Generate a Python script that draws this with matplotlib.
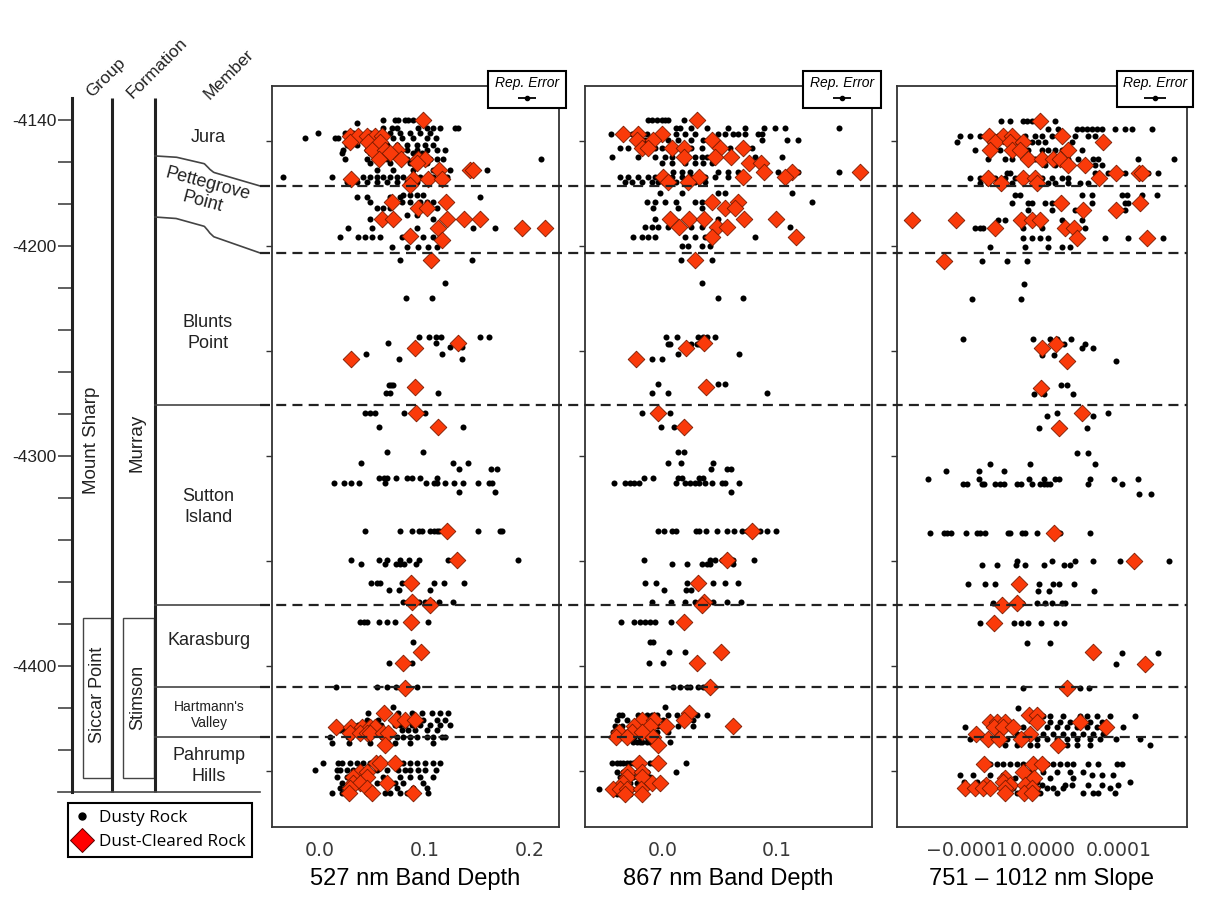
import numpy as np
import matplotlib
matplotlib.use("Agg")
import matplotlib.pyplot as plt
from matplotlib import transforms
from matplotlib.lines import Line2D
from matplotlib.patches import Rectangle
from matplotlib.ticker import FuncFormatter

plt.rcParams['font.family'] = ['Liberation Sans', 'DejaVu Sans']

# ---- stratigraphy (elevation, m) ----
member_bounds = [-4171.4, -4203.3, -4275.7, -4371.0, -4410.0, -4433.8]
wavy_left = [-4157.1, -4186.2]      # the two upper contacts start higher at the formation line
column_top = -4129.5
column_base = -4460.0
stimson_top = -4377.1
stimson_base = -4453.3
elev_labels = [-4140, -4200, -4300, -4400]

# ---- 527 nm band depth ----
bd527_dusty = [
    (-4140.0, [0.060, 0.071, 0.074, 0.081, 0.084, 0.089]),
    (-4141.4, [0.035]),
    (-4143.8, [0.060, 0.069, 0.073, 0.093, 0.102, 0.108, 0.114, 0.129, 0.131]),
    (-4146.2, [-0.002, 0.024, 0.031, 0.048, 0.057, 0.067, 0.076, 0.086, 0.095, 0.105]),
    (-4148.6, [-0.014, 0.014, 0.017, 0.035, 0.041, 0.060, 0.070, 0.078, 0.089, 0.102, 0.110]),
    (-4151.9, [0.026, 0.035, 0.064, 0.073, 0.083, 0.092, 0.100, 0.108]),
    (-4154.3, [0.022, 0.045, 0.083, 0.092, 0.102, 0.111, 0.119]),
    (-4155.7, [0.021, 0.048, 0.076, 0.089, 0.097]),
    (-4158.6, [0.024, 0.045, 0.054, 0.064, 0.073, 0.083, 0.093, 0.105, 0.111, 0.117, 0.210]),
    (-4160.5, [0.048, 0.067, 0.086, 0.102]),
    (-4163.8, [0.054, 0.070, 0.089, 0.108, 0.124, 0.140, 0.159]),
    (-4167.1, [-0.035, 0.011, 0.029, 0.041, 0.048, 0.054, 0.060, 0.067, 0.073, 0.079, 0.095, 0.108, 0.121]),
    (-4169.5, [0.026, 0.035, 0.045, 0.054, 0.064, 0.073, 0.083, 0.092, 0.102]),
    (-4175.7, [0.079, 0.086, 0.092, 0.098]),
    (-4176.7, [0.035, 0.045, 0.067, 0.076, 0.152]),
    (-4179.0, [0.048, 0.078, 0.086, 0.095, 0.102, 0.108]),
    (-4181.9, [0.054, 0.060, 0.067, 0.105, 0.111]),
    (-4185.2, [0.070, 0.083, 0.092]),
    (-4187.1, [0.048, 0.108, 0.135]),
    (-4191.4, [0.027, 0.050, 0.092, 0.146, 0.167]),
    (-4195.7, [0.019, 0.036, 0.043, 0.050, 0.057, 0.078, 0.089, 0.098, 0.108]),
    (-4200.5, [0.069, 0.083, 0.093, 0.103, 0.111]),
    (-4206.7, [0.076, 0.145]),
    (-4217.6, [0.119]),
    (-4224.8, [0.082, 0.107]),
    (-4243.3, [0.094, 0.104, 0.110, 0.115, 0.152, 0.161]),
    (-4246.2, [0.065, 0.110]),
    (-4248.1, [0.124, 0.135]),
    (-4251.4, [0.044, 0.116]),
    (-4253.8, [0.075, 0.135]),
    (-4266.2, [0.066, 0.068, 0.070]),
    (-4270.0, [0.063, 0.067, 0.112]),
    (-4279.5, [0.043, 0.048, 0.052, 0.080, 0.100]),
    (-4286.2, [0.056, 0.136]),
    (-4298.1, [0.064, 0.098]),
    (-4303.3, [0.039, 0.127, 0.141]),
    (-4306.2, [0.132, 0.163, 0.169]),
    (-4310.5, [0.056, 0.061, 0.064, 0.072, 0.083, 0.088, 0.095, 0.111]),
    (-4312.9, [0.013, 0.023, 0.030, 0.037, 0.062, 0.101, 0.109, 0.111, 0.119, 0.128, 0.136, 0.150, 0.161, 0.164]),
    (-4317.1, [0.132, 0.167]),
    (-4335.7, [0.043, 0.076, 0.088, 0.094, 0.097, 0.105, 0.109, 0.111, 0.113, 0.150, 0.171, 0.173]),
    (-4349.5, [0.030, 0.056, 0.064, 0.076, 0.085, 0.094, 0.122, 0.189]),
    (-4351.4, [0.039, 0.062, 0.072, 0.076, 0.080, 0.091]),
    (-4360.5, [0.049, 0.054, 0.057, 0.078, 0.109, 0.118, 0.137]),
    (-4363.8, [0.066, 0.075, 0.105]),
    (-4369.5, [0.079, 0.088, 0.094, 0.100, 0.107, 0.113, 0.127]),
    (-4379.0, [0.038, 0.042, 0.045, 0.056, 0.064, 0.071, 0.103]),
    (-4388.6, [0.089]),
    (-4398.6, [0.066, 0.088]),
    (-4410.0, [0.015, 0.054, 0.064, 0.072, 0.083, 0.092]),
    (-4419.5, [0.070]),
    (-4422.4, [0.046, 0.074, 0.088, 0.097, 0.107, 0.114, 0.122]),
    (-4425.7, [0.045, 0.055, 0.098, 0.111, 0.119]),
    (-4428.1, [0.029, 0.036, 0.043, 0.058, 0.071, 0.076, 0.081, 0.088, 0.095, 0.105, 0.114, 0.124]),
    (-4430.5, [0.019, 0.024, 0.050, 0.062, 0.078, 0.084, 0.090, 0.102, 0.111]),
    (-4433.8, [0.010, 0.027, 0.030, 0.048, 0.059, 0.073, 0.079, 0.086, 0.092, 0.102, 0.108, 0.116, 0.119]),
    (-4436.7, [0.011, 0.028, 0.048, 0.065, 0.071, 0.086, 0.108]),
    (-4446.2, [0.003, 0.017, 0.021, 0.029, 0.035, 0.041, 0.048, 0.059, 0.079, 0.086, 0.092, 0.100, 0.108, 0.114]),
    (-4449.5, [-0.005, 0.016, 0.019, 0.026, 0.031, 0.041, 0.054, 0.064, 0.074, 0.081, 0.086, 0.093, 0.100, 0.110]),
    (-4452.9, [0.016, 0.026, 0.048, 0.060, 0.076, 0.086, 0.095, 0.108]),
    (-4455.7, [0.021, 0.054, 0.071, 0.079, 0.098]),
    (-4458.1, [0.019, 0.024, 0.048, 0.073, 0.089, 0.102]),
    (-4460.5, [0.011, 0.021, 0.062, 0.067, 0.076, 0.083, 0.103]),
]
bd527_clear = [
    (-4140.0, [0.098]),
    (-4147.6, [0.029, 0.036, 0.045, 0.052, 0.059]),
    (-4150.5, [0.029, 0.046, 0.057]),
    (-4154.3, [0.050, 0.062, 0.073]),
    (-4155.7, [0.067]),
    (-4158.6, [0.056, 0.077, 0.093, 0.100]),
    (-4160.5, [0.092]),
    (-4163.8, [0.113, 0.143, 0.146]),
    (-4168.1, [0.030, 0.089, 0.103, 0.116]),
    (-4171.0, [0.086]),
    (-4179.0, [0.069, 0.120]),
    (-4181.9, [0.093, 0.102]),
    (-4187.1, [0.059, 0.070, 0.121, 0.137, 0.152]),
    (-4191.4, [0.112, 0.192, 0.214]),
    (-4195.2, [0.086]),
    (-4197.1, [0.116]),
    (-4206.7, [0.106]),
    (-4246.2, [0.131]),
    (-4248.6, [0.090]),
    (-4253.8, [0.030]),
    (-4267.1, [0.090]),
    (-4279.5, [0.091]),
    (-4286.2, [0.112]),
    (-4335.7, [0.121]),
    (-4349.5, [0.130]),
    (-4360.5, [0.087]),
    (-4369.5, [0.088]),
    (-4371.0, [0.105]),
    (-4379.0, [0.087]),
    (-4393.3, [0.096]),
    (-4398.6, [0.079]),
    (-4410.5, [0.081]),
    (-4422.4, [0.061]),
    (-4425.7, [0.072, 0.081, 0.090]),
    (-4429.0, [0.015, 0.030, 0.040, 0.048, 0.052]),
    (-4431.9, [0.029, 0.038, 0.045, 0.048, 0.060, 0.065]),
    (-4437.6, [0.062]),
    (-4446.2, [0.053, 0.057, 0.071]),
    (-4450.5, [0.038, 0.045]),
    (-4452.9, [0.031, 0.045]),
    (-4455.7, [0.031, 0.038, 0.064]),
    (-4458.1, [0.029, 0.045]),
    (-4460.5, [0.028, 0.050, 0.089]),
]

# ---- 867 nm band depth ----
bd867_dusty = [
    (-4140.0, [-0.013, -0.010, -0.005, -0.001, 0.002, 0.004, 0.018]),
    (-4143.8, [0.011, 0.015, 0.025, 0.039, 0.057, 0.072, 0.089, 0.098, 0.107, 0.154]),
    (-4146.7, [-0.046, -0.027, -0.014, 0.011, 0.019, 0.028, 0.048, 0.054, 0.061, 0.066, 0.072, 0.083, 0.087]),
    (-4149.5, [-0.016, 0.004, 0.013, 0.025, 0.035, 0.087, 0.109, 0.118]),
    (-4153.3, [-0.038, -0.031, -0.007, -0.001, 0.004, 0.025, 0.034, 0.059, 0.078]),
    (-4157.6, [-0.045, -0.022, -0.007, 0.002, 0.008, 0.022, 0.028, 0.034, 0.039, 0.057, 0.081, 0.104]),
    (-4160.5, [-0.001, 0.008, 0.019, 0.028, 0.035, 0.043]),
    (-4164.8, [0.009, 0.017, 0.024, 0.048, 0.057, 0.066, 0.101, 0.118, 0.154]),
    (-4167.1, [-0.038, -0.031, -0.022, -0.013, -0.007, 0.008, 0.017, 0.025, 0.037, 0.046, 0.057]),
    (-4169.5, [-0.033, -0.027, -0.018, -0.010, -0.004, 0.004, 0.011, 0.019, 0.028, 0.037]),
    (-4174.8, [-0.003, 0.017, 0.048, 0.054, 0.113]),
    (-4179.0, [-0.014, -0.007, 0.002, 0.011, 0.028, 0.034, 0.046, 0.066, 0.131]),
    (-4181.9, [-0.009, 0.013, 0.034]),
    (-4187.1, [-0.007, 0.048]),
    (-4191.0, [-0.016, -0.010, -0.004, 0.004, 0.025, 0.034, 0.111]),
    (-4195.7, [-0.026, -0.018, -0.013, -0.007, 0.019, 0.028, 0.037, 0.081]),
    (-4200.0, [0.017, 0.022, 0.034, 0.041]),
    (-4206.7, [0.016, 0.043]),
    (-4217.6, [0.034]),
    (-4224.8, [0.048, 0.070]),
    (-4243.3, [0.003, 0.012, 0.031, 0.035, 0.039, 0.046]),
    (-4246.7, [0.004, 0.006, 0.025, 0.030, 0.032]),
    (-4251.4, [0.013, 0.067]),
    (-4253.8, [-0.010, -0.001]),
    (-4265.7, [-0.004, 0.048, 0.054]),
    (-4270.0, [-0.010, 0.004, 0.091]),
    (-4279.5, [-0.018, -0.001, 0.006]),
    (-4286.2, [-0.002, 0.010]),
    (-4298.1, [0.013, 0.018]),
    (-4303.3, [0.004, 0.016, 0.044]),
    (-4306.2, [0.042, 0.056, 0.060]),
    (-4310.5, [-0.017, -0.009, 0.013, 0.017, 0.032, 0.035]),
    (-4312.9, [-0.043, -0.033, -0.029, -0.025, -0.021, 0.011, 0.019, 0.024, 0.028, 0.032, 0.037, 0.043, 0.052, 0.054, 0.067]),
    (-4317.1, [0.060]),
    (-4335.7, [-0.004, 0.001, 0.008, 0.011, 0.029, 0.032, 0.038, 0.047, 0.056, 0.062, 0.069, 0.074, 0.085, 0.091, 0.099]),
    (-4349.5, [-0.017, 0.041, 0.046, 0.052, 0.061, 0.080]),
    (-4351.4, [0.008, 0.021, 0.034, 0.039, 0.041, 0.061]),
    (-4360.5, [-0.016, -0.006, 0.021, 0.044, 0.054, 0.066]),
    (-4363.8, [0.001, 0.020, 0.025]),
    (-4369.5, [-0.010, 0.007, 0.019, 0.028, 0.044, 0.056, 0.068]),
    (-4379.0, [-0.037, -0.025, -0.020, -0.016, -0.011, -0.007, 0.007]),
    (-4388.6, [-0.011, -0.009]),
    (-4393.3, [0.005, 0.019]),
    (-4398.6, [-0.012, 0.000]),
    (-4410.0, [0.009, 0.015, 0.021, 0.024, 0.031, 0.035]),
    (-4419.5, [0.002]),
    (-4423.3, [-0.039, -0.036, -0.022, -0.014, -0.010, -0.005, 0.004, 0.012, 0.030, 0.039]),
    (-4425.7, [-0.040, -0.032, 0.000, 0.015, 0.026]),
    (-4428.6, [-0.042, -0.036, -0.029, -0.020, -0.016, -0.004, 0.013, 0.026]),
    (-4431.4, [-0.044, -0.035, -0.026, -0.022, -0.013, -0.005, 0.004]),
    (-4433.8, [-0.044, -0.038, -0.025, -0.020, -0.014, -0.010]),
    (-4436.2, [-0.026, -0.023, -0.020, -0.018, -0.014, -0.011, -0.009, 0.006]),
    (-4446.2, [-0.045, -0.040, -0.038, -0.035, -0.032, -0.029, -0.026, -0.023, -0.018, -0.011, -0.009, -0.003, 0.020]),
    (-4450.5, [-0.040, -0.035, -0.029, -0.023, -0.014, 0.011]),
    (-4452.9, [-0.038, -0.026, -0.011]),
    (-4455.7, [-0.029, -0.023, -0.014]),
    (-4458.6, [-0.056, -0.027]),
    (-4461.0, [-0.040, -0.029]),
]
bd867_clear = [
    (-4140.0, [0.030]),
    (-4146.7, [-0.035, -0.022, -0.001]),
    (-4149.5, [-0.023, -0.009, 0.043]),
    (-4153.3, [-0.018, -0.013, 0.008, 0.018, 0.050, 0.070]),
    (-4157.6, [0.018, 0.046, 0.060]),
    (-4160.5, [0.075, 0.086]),
    (-4164.8, [0.089, 0.113, 0.173]),
    (-4167.1, [0.000, 0.032, 0.070, 0.107]),
    (-4169.5, [0.004, 0.022]),
    (-4179.0, [0.043, 0.066]),
    (-4181.9, [0.054, 0.063]),
    (-4187.1, [0.006, 0.023, 0.036, 0.071, 0.099]),
    (-4191.0, [0.014, 0.047, 0.056]),
    (-4195.7, [0.043, 0.117]),
    (-4206.7, [0.028]),
    (-4246.2, [0.036]),
    (-4248.6, [0.020]),
    (-4253.8, [-0.024]),
    (-4267.1, [0.038]),
    (-4279.5, [-0.004]),
    (-4286.2, [0.018]),
    (-4335.7, [0.078]),
    (-4349.5, [0.056]),
    (-4360.5, [0.031]),
    (-4369.5, [0.036]),
    (-4371.0, [0.034]),
    (-4379.0, [0.018]),
    (-4393.3, [0.051]),
    (-4398.6, [0.030]),
    (-4410.0, [0.041]),
    (-4422.4, [0.023]),
    (-4425.7, [-0.018, -0.008, 0.018]),
    (-4428.6, [-0.025, -0.011, 0.003, 0.061]),
    (-4431.4, [-0.039, -0.027, -0.018]),
    (-4433.8, [-0.041, -0.032, -0.009]),
    (-4437.6, [-0.004]),
    (-4446.2, [-0.021, -0.004]),
    (-4450.5, [-0.031, -0.018]),
    (-4452.9, [-0.032, -0.018]),
    (-4455.7, [-0.035, -0.010, -0.003]),
    (-4458.6, [-0.044, -0.038, -0.032, -0.019]),
    (-4461.0, [-0.033, -0.018]),
]

# ---- 751-1012 nm slope, in units of 1e-5 ----
slope_dusty = [
    (-4140.5, [-5.5, -4.3, -2.6, -2.1, -1.4, 1.6]),
    (-4144.3, [0.7, 2.0, 4.5, 5.1, 5.8, 6.4, 7.1, 7.8, 9.5, 10.8, 11.7, 14.3]),
    (-4147.6, [-10.9, -9.6, -8.3, -5.9, -4.6, -2.4, -1.1, -0.1, 1.2, 4.2, 5.9, 6.8]),
    (-4150.5, [-11.3, -3.3, -1.4, -0.7, 0.3, 3.8]),
    (-4154.3, [-8.9, -5.7, -2.0, -0.1, 0.7, 1.6, 2.5, 5.1]),
    (-4158.6, [-7.2, -5.0, -4.1, -1.1, 3.3, 4.6, 6.6, 7.2, 12.5, 17.2]),
    (-4161.4, [0.3, 1.6, 6.8, 7.8]),
    (-4165.2, [-4.7, -4.3, 6.8, 8.6, 10.8, 13.8, 15.1]),
    (-4167.6, [-9.6, -8.3, -6.3, -5.0, -3.7, -2.0, -0.1, 1.2, 2.5, 3.3]),
    (-4170.0, [-8.3, -7.2, -4.1, 0.7, 1.6, 3.3, 4.9, 5.9]),
    (-4175.7, [-3.7, -3.0, 5.1, 6.4, 10.4, 11.1, 13.0, 15.0]),
    (-4179.5, [-4.1, -2.0, -1.4, 0.3, 1.2, 6.4, 10.8, 11.2]),
    (-4182.9, [-2.0, 1.2, 4.2, 10.8]),
    (-4187.6, [-5.9, -5.0, 2.5, 5.1]),
    (-4191.4, [-8.9, -8.3, -7.9, -2.6, -0.1, 5.5]),
    (-4196.2, [-2.6, -1.4, -0.4, 0.7, 8.2, 11.2, 15.8]),
    (-4200.5, [-7.0, -2.4, 0.7, 2.5, 3.6]),
    (-4207.1, [-8.0, -4.7, -2.1]),
    (-4218.1, [-2.5]),
    (-4225.2, [-9.3, -2.9]),
    (-4244.3, [-10.5, -1.3, 0.9, 1.8, 3.7]),
    (-4246.7, [2.8, 5.5]),
    (-4248.6, [5.1, 6.6]),
    (-4251.9, [-0.1, 1.4]),
    (-4254.8, [9.6]),
    (-4266.2, [2.4, 3.2]),
    (-4270.5, [-1.2, 0.1, 3.9]),
    (-4279.5, [1.8, 8.6]),
    (-4281.0, [0.5, 6.6]),
    (-4286.7, [-0.5, 5.8]),
    (-4298.6, [4.5, 5.9]),
    (-4303.8, [-7.0, -1.7, 6.8]),
    (-4307.1, [-12.8, -8.4, -5.1]),
    (-4311.0, [-15.1, -8.4, -1.8, 0.1, 1.6, 2.1, 6.2, 9.3, 12.5]),
    (-4313.3, [-10.5, -10.0, -8.0, -7.8, -6.3, -5.7, -5.1, -3.4, -2.9, -1.4, -0.4, 0.1, 0.5, 0.9, 5.9, 10.4]),
    (-4318.1, [12.6, 14.2]),
    (-4336.7, [-14.9, -13.0, -12.6, -12.1, -10.1, -8.7, -8.3, -7.6, -4.6, -4.3, -2.8, -2.4, -0.8, 2.2, 6.2]),
    (-4350.0, [-3.4, 1.2, 4.2, 6.6, 10.1, 16.6]),
    (-4351.9, [-8.0, -6.1, -3.6, -2.4, 0.1, 2.8, 3.6]),
    (-4361.0, [-9.9, -7.6, -6.3, -0.5, 1.3, 2.1, 4.1]),
    (-4364.3, [-0.7, 0.8, 6.7]),
    (-4370.0, [-6.6, -2.8, -0.8, 0.3, 1.2, 2.5, 2.9]),
    (-4379.5, [-8.3, -3.8, -2.9, -2.0, -0.3, 1.7, 2.8]),
    (-4389.0, [-2.1, 0.9]),
    (-4393.8, [10.4, 15.1]),
    (-4399.0, [9.6]),
    (-4410.5, [-2.6, 4.9, 6.1]),
    (-4420.0, [-3.3]),
    (-4423.8, [0.0, 0.9, 2.6, 4.9, 5.8, 7.1, 8.8, 12.1]),
    (-4426.7, [0.9, 2.2, 3.6, 6.2, 7.8]),
    (-4429.0, [-10.3, -2.6, 0.5, 1.8, 3.2, 4.5, 5.8, 7.1, 10.5]),
    (-4432.4, [-5.7, -3.4, 0.0, 1.3, 2.6, 3.9, 5.3, 6.6, 7.9]),
    (-4434.8, [-9.6, -4.7, -0.8, 0.5, 1.8, 3.2, 4.5, 6.2, 7.5, 9.6, 12.8]),
    (-4437.6, [-5.0, -3.4, -1.7, -0.8, 3.2, 4.5, 6.2, 14.1]),
    (-4446.7, [-7.0, -6.1, -5.3, -4.3, -3.4, -2.6, 0.5, 1.3, 2.2, 3.2, 3.9, 5.9, 7.2, 9.7, 10.4]),
    (-4450.5, [-1.7, 0.0, 1.8, 3.6, 5.3]),
    (-4451.9, [-10.9, -9.2, -7.0, -5.3, 6.4, 7.8, 9.2]),
    (-4453.3, [-3.7, 0.9, 3.9]),
    (-4455.2, [-10.4, -8.7, -0.8, 11.4]),
    (-4456.7, [-0.1, 2.9, 3.8, 5.9, 7.8, 9.9]),
    (-4458.1, [-3.9, -0.8, 0.5, 1.3, 2.6, 8.8]),
    (-4460.5, [-3.4, -0.4, 1.8, 5.3, 6.6, 7.2, 9.5]),
]
slope_clear = [
    (-4140.5, [-0.4]),
    (-4147.6, [-7.1, -5.3, -4.1, 2.5]),
    (-4150.5, [-6.3, -4.3, -2.6, 7.9]),
    (-4154.3, [-7.0, -4.1, -3.0, 3.3]),
    (-4158.6, [-2.0, -0.1, 1.3, 2.2]),
    (-4161.4, [3.3, 5.5]),
    (-4165.2, [9.6, 12.6, 13.0]),
    (-4167.6, [-7.2, -2.6, -1.1, 7.4]),
    (-4170.0, [-5.5, -0.8]),
    (-4179.5, [2.4, 12.8]),
    (-4182.9, [5.3, 9.6]),
    (-4187.6, [-17.2, -11.4, -2.9, -1.4, -0.4]),
    (-4191.4, [-6.3, 2.9, 4.1]),
    (-4196.2, [4.5, 13.7]),
    (-4207.1, [-13.0]),
    (-4246.7, [1.7]),
    (-4248.6, [-0.1]),
    (-4254.8, [3.2]),
    (-4267.6, [-0.3]),
    (-4279.5, [5.1]),
    (-4286.7, [2.1]),
    (-4336.7, [1.4]),
    (-4350.0, [12.0]),
    (-4361.0, [-3.2]),
    (-4370.0, [-3.4]),
    (-4371.0, [-5.4]),
    (-4379.5, [-6.4]),
    (-4393.3, [6.6]),
    (-4399.0, [13.4]),
    (-4410.5, [3.2]),
    (-4423.3, [-1.8, -0.8]),
    (-4426.7, [-7.0, -6.1, -5.0, -0.8, 4.9]),
    (-4429.0, [-6.4, -5.3, -3.9, 8.3]),
    (-4432.4, [-8.8, -1.7]),
    (-4434.8, [-7.2, -5.8, -2.9]),
    (-4437.6, [2.0]),
    (-4446.7, [-7.8, -1.3, -0.1]),
    (-4450.5, [-2.6]),
    (-4453.3, [-5.0, -1.2]),
    (-4455.2, [-5.3]),
    (-4456.7, [-7.5, -4.3, -2.4]),
    (-4458.1, [-10.3, -8.9, -7.9, -7.0, -5.0, -1.4]),
    (-4460.5, [-5.0, -2.5, -1.4]),
]

# representative errors (half widths)
rep_err_527 = 0.009
rep_err_867 = 0.0083
rep_err_slope = 1.4e-5

W, H = 1224, 914
ELEV_LIM = (-4476.7, -4123.8)
RED = '#fa3a0a'


def px_rect(l, t, r, b):
    return [l / W, 1 - b / H, (r - l) / W, (b - t) / H]


def flatten(rows, scale=1.0):
    xs, ys = [], []
    for elev, vals in rows:
        for v in vals:
            xs.append(v * scale)
            ys.append(elev)
    return np.array(xs), np.array(ys)


fig = plt.figure(figsize=(W / 100, H / 100), dpi=100)

# ---------------- stratigraphic column ----------------
col = fig.add_axes(px_rect(72, 86, 262, 827))
col.set_xlim(0, 190)
col.set_ylim(*ELEV_LIM)
for s in ['top', 'right', 'bottom']:
    col.spines[s].set_visible(False)
col.spines['left'].set_bounds(column_base, column_top)
col.spines['left'].set_linewidth(2.2)
col.spines['left'].set_color('#222222')
ticks = np.arange(-4440, -4139, 20)
col.set_yticks(ticks)
col.set_yticklabels([str(t) if t in elev_labels else '' for t in ticks])
col.tick_params(axis='y', length=10, width=1.2, color='#444444', pad=1,
                labelsize=12.5, labelcolor='#222222')
col.set_xticks([])
col.patch.set_alpha(0)

for xo in (40, 83):
    col.plot([xo, xo], [column_base, column_top], color='#222222', lw=2.2,
             solid_capstyle='butt')
col.plot([-14, 188], [column_base, column_base], color='#444444', lw=1.2,
         clip_on=False)

# wavy contacts of Pettegrove Point
t_knots = [0, 0.2, 0.4, 0.47, 0.5, 0.52, 0.56, 1.0]
f_knots = [0, 0.04, 0.2, 0.26, 0.36, 0.44, 0.55, 1.0]
t = np.linspace(0, 1, 200)
frac = np.interp(t, t_knots, f_knots)
for e0, e1 in zip(wavy_left, member_bounds[:2]):
    col.plot(83 + t * 105, e0 + frac * (e1 - e0), color='#444444', lw=1.2)
for e in member_bounds[2:]:
    col.plot([83, 188], [e, e], color='#444444', lw=1.2)

for x0, w in ((11, 28), (51, 31)):
    col.add_patch(Rectangle((x0, stimson_base), w, stimson_top - stimson_base,
                            fill=False, edgecolor='#444444', lw=1.0))

txt = dict(ha='center', va='center', color='#222222', fontsize=13)
col.text(20, -4292.4, 'Mount Sharp', rotation=90, fontsize=13.5,
         ha='center', va='center', color='#222222')
col.text(65, -4293.8, 'Murray', rotation=90, fontsize=13.5,
         ha='center', va='center', color='#222222')
col.text(26, -4413.8, 'Siccar Point', rotation=90, **txt)
col.text(66, -4415.2, 'Stimson', rotation=90, **txt)
col.text(136, -4148.1, 'Jura', **txt)
col.text(133, -4174.8, 'Pettegrove\nPoint', rotation=-15, linespacing=1.15, **txt)
col.text(136, -4241.4, 'Blunts\nPoint', linespacing=1.25, **txt)
col.text(136, -4324.3, 'Sutton\nIsland', linespacing=1.25, **txt)
col.text(137, -4388.1, 'Karasburg', **txt)
col.text(137, -4423.3, "Hartmann's\nValley", ha='center', va='center',
         color='#222222', fontsize=10, linespacing=1.2)
col.text(137, -4447.6, 'Pahrump\nHills', linespacing=1.25, **txt)
head = dict(ha='center', va='center', rotation=45, color='#222222',
            fontsize=12.5, clip_on=False)
col.text(34, -4120.0, 'Group', **head)
col.text(85, -4115.2, 'Formation', **head)
col.text(157, -4118.1, 'Member', **head)

# ---------------- measurement panels ----------------
panels = [
    dict(rect=(272, 86, 559, 827), dusty=bd527_dusty, clear=bd527_clear, scale=1.0,
         xlim=(-0.0457, 0.2276), xticks=[0.0, 0.1, 0.2], fmt='{:.1f}',
         label='527 nm Band Depth', err=rep_err_527, box=(488, 71, 566, 108)),
    dict(rect=(585, 86, 872, 827), dusty=bd867_dusty, clear=bd867_clear, scale=1.0,
         xlim=(-0.0684, 0.1833), xticks=[0.0, 0.1], fmt='{:.1f}',
         label='867 nm Band Depth', err=rep_err_867, box=(803, 71, 881, 108)),
    dict(rect=(897, 86, 1187, 827), dusty=slope_dusty, clear=slope_clear, scale=1e-5,
         xlim=(-1.92e-4, 1.895e-4), xticks=[-1e-4, 0.0, 1e-4], fmt='{:.4f}',
         label='751 \u2013 1012 nm Slope', err=rep_err_slope, box=(1117, 71, 1193, 107)),
]

axes = []
for p in panels:
    ax = fig.add_axes(px_rect(*p['rect']))
    ax.set_xlim(*p['xlim'])
    ax.set_ylim(*ELEV_LIM)
    xd, yd = flatten(p['dusty'], p['scale'])
    xc, yc = flatten(p['clear'], p['scale'])
    ax.scatter(xd, yd, s=19, color='black', linewidths=0, zorder=2)
    ax.scatter(xc, yc, s=72, marker='D', color=RED, edgecolors='#7a1a00',
               linewidths=0.6, zorder=3)
    ax.set_yticks(np.arange(-4450, -4149, 50))
    ax.set_yticklabels([])
    ax.tick_params(axis='y', direction='out', length=4, width=1.0, color='#333333')
    ax.set_xticks(p['xticks'])
    fmt = p['fmt']
    ax.xaxis.set_major_formatter(FuncFormatter(
        lambda v, pos, f=fmt: f.format(0.0 if abs(v) < 1e-12 else v).replace('-', '\u2212')))
    ax.tick_params(axis='x', length=0, pad=10, labelsize=13.6, labelcolor='#3a3a3a',
                   labelfontfamily='DejaVu Sans')
    ax.set_xlabel(p['label'], fontsize=17, labelpad=6, color='black')
    for s in ax.spines.values():
        s.set_color('#333333')
        s.set_linewidth(1.3)

    # representative error key
    l, tp, r, b = p['box']
    ax.add_patch(Rectangle((l / W, 1 - b / H), (r - l) / W, (b - tp) / H,
                           transform=fig.transFigure, facecolor='white',
                           edgecolor='black', lw=1.5, zorder=5, clip_on=False))
    cx = (l + r) / 2
    ax.text(cx / W, 1 - 83 / H, 'Rep. Error', transform=fig.transFigure,
            ha='center', va='center', fontsize=10, style='italic', zorder=7)
    xe, ye = ax.transData.inverted().transform(fig.transFigure.transform((cx / W, 1 - 98 / H)))
    ax.errorbar([xe], [ye], xerr=[p['err']], fmt='o', ms=3, color='black',
                elinewidth=1.3, capsize=0, zorder=7, clip_on=False)
    axes.append(ax)

# member contacts across all panels
blend = transforms.blended_transform_factory(fig.transFigure, axes[0].transData)
for e in member_bounds:
    fig.add_artist(Line2D([260 / W, 1187 / W], [e, e], transform=blend,
                          color='#222222', lw=1.6, linestyle=(0, (4.5, 2.8)),
                          zorder=4))

# legend
h_dot = Line2D([], [], marker='o', ls='none', ms=5, color='black')
h_dia = Line2D([], [], marker='D', ls='none', ms=12, markerfacecolor='#ff0000',
               markeredgecolor='#5a0000', markeredgewidth=0.7)
leg = fig.legend([h_dot, h_dia], ['Dusty Rock', 'Dust-Cleared Rock'],
                 loc='upper left', bbox_to_anchor=(68 / W, 1 - 803 / H),
                 frameon=True, fancybox=False, edgecolor='black', framealpha=1,
                 borderaxespad=0, borderpad=0.4, labelspacing=0.5,
                 handlelength=0.8, handletextpad=0.6,
                 prop={'family': 'Open Sans', 'size': 12.3})
leg.get_frame().set_linewidth(1.5)

fig.savefig('out.png', dpi=100)
